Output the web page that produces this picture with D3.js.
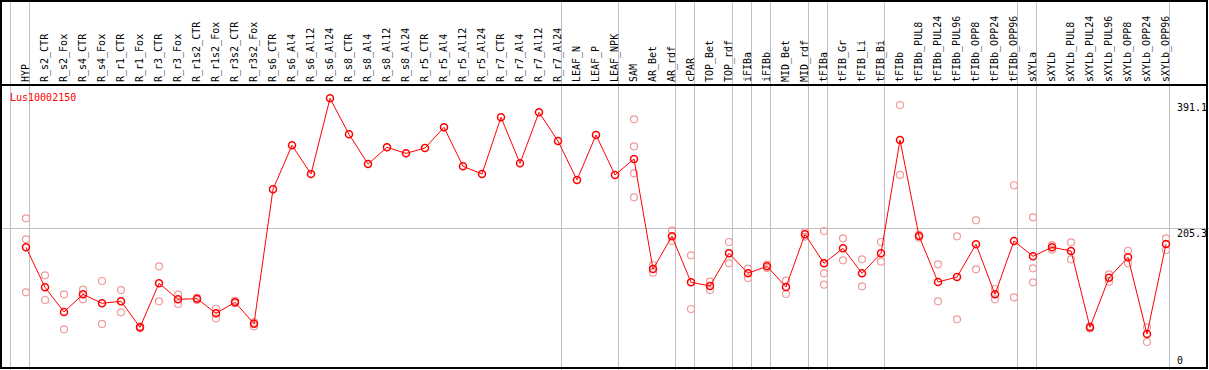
<!DOCTYPE html>
<html>
<head>
<meta charset="utf-8">
<script src="https://cdn.jsdelivr.net/npm/d3@7"></script>
<style>
  body { margin: 0; background: #fff; }
  text { font-family: "DejaVu Sans Mono", monospace; font-size: 10px; }
</style>
</head>
<body>
<script>
// gene shown in the plot
var gene = "Lus10002150";

// sample names (one column each)
var samples = ["HYP","R_s2_CTR","R_s2_Fox","R_s4_CTR","R_s4_Fox","R_r1_CTR","R_r1_Fox","R_r3_CTR","R_r3_Fox",
  "R_r1s2_CTR","R_r1s2_Fox","R_r3s2_CTR","R_r3s2_Fox","R_s6_CTR","R_s6_Al4","R_s6_Al12","R_s6_Al24",
  "R_s8_CTR","R_s8_Al4","R_s8_Al12","R_s8_Al24","R_r5_CTR","R_r5_Al4","R_r5_Al12","R_r5_Al24",
  "R_r7_CTR","R_r7_Al4","R_r7_Al12","R_r7_Al24","LEAF_N","LEAF_P","LEAF_NPK","SAM","AR_Bet","AR_rdf",
  "cPAR","TOP_Bet","TOP_rdf","iFIBa","iFIBb","MID_Bet","MID_rdf","tFIBa","tFIB_Gr","tFIB_Li","tFIB_Bi",
  "tFIBb","tFIBb_PUL8","tFIBb_PUL24","tFIBb_PUL96","tFIBb_OPP8","tFIBb_OPP24","tFIBb_OPP96",
  "sXYLa","sXYLb","sXYLb_PUL8","sXYLb_PUL24","sXYLb_PUL96","sXYLb_OPP8","sXYLb_OPP24","sXYLb_OPP96"];

// mean expression per sample
var means = [176.7,117.6,81.2,107.3,94.0,97.0,58.6,123.5,99.9,
  100.8,79.2,95.5,63.9,262.3,327.2,284.8,396.5,
  343.4,299.6,324.2,315.3,323.2,353.7,296.2,284.8,
  368.5,300.6,375.9,333.5,276.0,342.4,283.4,307.0,144.6,192.9,
  125.0,119.5,167.8,138.3,148.6,118.1,195.8,153.0,175.2,138.3,167.8,
  335.0,193.3,125.4,132.8,181.1,107.3,186.0,
  163.4,176.7,171.2,58.6,131.8,161.9,48.7,181.5];

// single replicate values per sample
var reps = [[219.4,188.4,110.2],[135.3,98.9],[107.3,55.6],[114.1,99.9],[126.9,63.5],[113.6,80.7],[57.1,60.1],[148.6,97.0],[106.7,93.0],
  [102.0,99.0],[86.0,71.9],[97.5,94.0],[66.0,60.1],[],[],[],[],
  [],[],[],[],[],[],[],[],
  [],[],[],[],[],[],[],[365.5,325.7,285.8,250.4],[150.5,139.2],[201.2,185.9],
  [164.8,85.6],[125.9,113.6],[184.5,153.0],[145.1,131.3],[151.0,146.0],[127.4,107.7],[199.2,192.5],[200.7,138.3,121.5],[189.9,157.5],[158.9,119.1],[184.5,155.4],
  [386.7,283.4],[195.0,191.0],[151.6,97.0],[192.9,70.4],[216.5,144.2],[115.1,99.9],[268.2,102.9],
  [220.9,145.7,125.0],[180.0,173.1],[184.0,158.9],[60.0,57.0],[136.8,125.9],[171.6,153.0],[58.6,36.9],[189.9,172.7]];

// number of samples in each tissue group
var groupSizes = [1,28,3,3,1,2,1,1,2,1,3,7,1,7];

// right axis labels
var yTicks = [0, 205.3, 391.1];
var refLine = 205.3;

var W = 1209, H = 370, headerH = 85;

var svg = d3.select("body").append("svg")
    .attr("width", W)
    .attr("height", H);

svg.append("rect")
    .attr("width", W).attr("height", H)
    .attr("fill", "#fff");

var x = d3.scaleBand()
    .domain(samples)
    .range([11, 11 + samples.length * 19]);
var px = function(s) { return x(s) + 15; };

var y = d3.scaleLinear()
    .domain([0, 391.1])
    .range([367, 102]);

// group separators
var bounds = [0];
groupSizes.forEach(function(n) { bounds.push(bounds[bounds.length - 1] + n); });
svg.selectAll("line.sep")
    .data(bounds)
    .enter().append("line")
    .attr("class", "sep")
    .attr("x1", function(b) { return b < samples.length ? x(samples[b]) - 0.5 : x(samples[b - 1]) + x.bandwidth() - 0.5; })
    .attr("x2", function(b) { return b < samples.length ? x(samples[b]) - 0.5 : x(samples[b - 1]) + x.bandwidth() - 0.5; })
    .attr("y1", 0).attr("y2", H)
    .attr("stroke", "#c0c0c0").attr("stroke-width", 1);

// reference line
svg.append("line")
    .attr("x1", 0).attr("x2", W)
    .attr("y1", Math.round(y(refLine)) + 0.5).attr("y2", Math.round(y(refLine)) + 0.5)
    .attr("stroke", "#c0c0c0");

// sample labels
svg.selectAll("text.lab")
    .data(samples)
    .enter().append("text")
    .attr("class", "lab")
    .attr("transform", function(d) { return "translate(" + (px(d) - 0.5) + "," + 82 + ") rotate(-90)"; })
    .attr("dy", "0.35em")
    .attr("fill", "#000")
    .text(function(d) { return d; });

// frame + header separator
svg.append("rect")
    .attr("x", 1).attr("y", 1)
    .attr("width", 1206).attr("height", 367)
    .attr("fill", "none").attr("stroke", "#000").attr("stroke-width", 2);
svg.append("line")
    .attr("x1", 0).attr("x2", 1208)
    .attr("y1", headerH).attr("y2", headerH)
    .attr("stroke", "#000").attr("stroke-width", 2);

// axis labels
svg.selectAll("text.tick")
    .data(yTicks)
    .enter().append("text")
    .attr("class", "tick")
    .attr("x", 1177)
    .attr("y", function(d) { return Math.min(y(d) + 9, 364); })
    .text(function(d) { return d; });

svg.append("text")
    .attr("x", 10).attr("y", 101)
    .attr("fill", "red")
    .text(gene);

// replicate points
var repPts = [];
reps.forEach(function(r, i) {
    r.forEach(function(v) { repPts.push({s: samples[i], v: v}); });
});
svg.selectAll("circle.rep")
    .data(repPts)
    .enter().append("circle")
    .attr("class", "rep")
    .attr("cx", function(d) { return px(d.s); })
    .attr("cy", function(d) { return y(d.v); })
    .attr("r", 3.5)
    .attr("fill", "none")
    .attr("stroke", "#f09a9a")
    .attr("stroke-width", 1.2);

// mean line
var line = d3.line()
    .x(function(d, i) { return px(samples[i]); })
    .y(function(d) { return y(d); });
svg.append("path")
    .datum(means)
    .attr("d", line)
    .attr("fill", "none")
    .attr("stroke", "red")
    .attr("stroke-width", 1);

svg.selectAll("circle.mean")
    .data(means)
    .enter().append("circle")
    .attr("class", "mean")
    .attr("cx", function(d, i) { return px(samples[i]); })
    .attr("cy", function(d) { return y(d); })
    .attr("r", 3.5)
    .attr("fill", "none")
    .attr("stroke", "red")
    .attr("stroke-width", 1.5);
</script>
</body>
</html>
